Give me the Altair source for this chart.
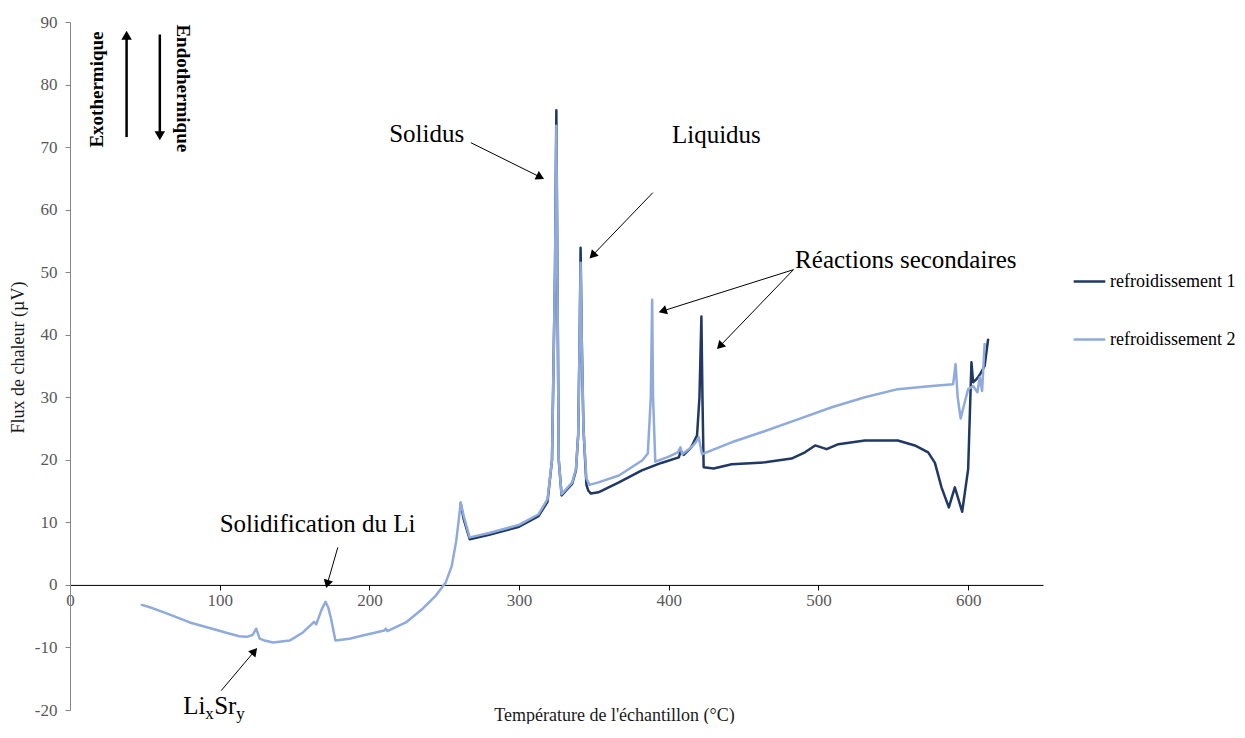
import math
import altair as alt
import pandas as pd

# ---------------- data ----------------
SERIES = ["refroidissement 1", "refroidissement 2"]
COLORS = ["#1F3864", "#8FAADC"]

# refroidissement 1 (dark)
T1 = [261, 263, 267, 280, 300, 313, 319, 322, 324, 324.9, 325.6, 326.5, 328.4, 335.5, 338,
      339.5, 340.5, 341.1, 341.8, 343, 345, 346.2, 348, 353, 366.7, 382, 395, 406.7, 408, 410,
      415, 418.9, 420.5, 421.8, 422.5, 423.3, 430, 442, 464.4, 482, 491, 497.8, 505.5, 513.3,
      531, 553, 564.4, 573.3, 577.8, 582.2, 587.1, 591.1, 596, 600, 602.2, 603.3, 605.6, 608,
      611, 613.3]
F1 = [13.0, 10.5, 7.3, 8.0, 9.3, 11.0, 13.3, 20, 50, 75.9, 50, 20, 14.3, 16.2, 18.3,
      24, 40, 53.9, 40, 25, 16, 15.1, 14.6, 14.8, 16.4, 18.3, 19.5, 20.4, 21.4, 20.8,
      22.0, 23.9, 30, 42.9, 30, 18.8, 18.6, 19.3, 19.6, 20.2, 21.2, 22.3, 21.7, 22.5,
      23.1, 23.1, 22.3, 21.2, 19.5, 15.6, 12.4, 15.6, 11.7, 18.5, 35.6, 32.4, 32.9, 33.7,
      35.0, 39.2]

# refroidissement 2 (light)
T2 = [48, 55, 65, 80, 95, 105, 113, 118, 122, 124.4, 126.7, 130, 135.6, 146.7, 155.6, 161.8,
      163, 164.5, 168, 170.7, 172.5, 174.4, 177.3, 186.7, 195.6, 210, 211, 212, 224.4, 235.6,
      244.4, 251, 255, 258, 260, 261, 263, 267, 280, 300, 313, 319, 322, 324, 324.9, 325.6,
      326.5, 328.4, 335.5, 338, 339.5, 340.5, 341.1, 341.8, 343, 345, 347, 353, 366.7, 382.2,
      386, 388, 388.9, 389.5, 391, 400, 406, 407.8, 409, 415, 418, 420, 422.2, 442, 464.4,
      486.7, 508.9, 531, 553, 575.6, 590, 591.6, 593, 595, 597.5, 600, 603.3, 606.2, 607.8,
      609.3, 611]
F2 = [-3.2, -3.7, -4.6, -6.0, -7.0, -7.7, -8.2, -8.3, -8.0, -7.0, -8.6, -8.9, -9.2, -8.9, -7.6, -6.2,
      -5.9, -6.3, -4.0, -2.7, -3.6, -5.4, -8.9, -8.6, -8.1, -7.3, -7.0, -7.4, -6.0, -3.8,
      -1.7, 0.4, 3.0, 7.0, 11.0, 13.2, 11.0, 7.6, 8.3, 9.6, 11.3, 13.7, 20, 50, 73.4, 50,
      20, 14.5, 16.4, 18.5, 24, 40, 51.5, 40, 25, 17, 16.0, 16.4, 17.5, 19.9,
      21, 30, 45.6, 30, 19.7, 20.5, 21.2, 22.0, 20.9, 22.0, 22.8, 23.6, 20.9, 22.8, 24.6,
      26.5, 28.4, 30.0, 31.3, 31.8, 32.1, 35.3, 30.0, 26.6, 29.0, 31.3, 31.8, 30.8, 33.2,
      31.0, 38.5]

X_TICKS = [0, 100, 200, 300, 400, 500, 600]
Y_TICKS = [-20, -10, 0, 10, 20, 30, 40, 50, 60, 70, 80, 90]
X_DOMAIN = [0, 650]
Y_DOMAIN = [-20, 90]

# annotations: label, x, y
BIG_CENTER = [("Solidus", 238.3, 70.8), ("Liquidus", 431.8, 70.7)]
BIG_LEFT = [("Réactions secondaires", 484.4, 50.6), ("Solidification du Li", 100.0, 8.5)]
LISR_ANCHOR = (75.6, -20.6)
EXO = ("Exothermique", 17.8, 79.2)
ENDO = ("Endothermique", 75.5, 79.4)

# arrows: tail x, tail y, head x, head y, kind
ARROWS = [
    (267.8, 70.7, 316.7, 64.9, "thin"),
    (389.3, 62.7, 347.1, 52.2, "thin"),
    (483.3, 50.4, 393.3, 43.6, "thin"),
    (483.3, 50.4, 432.2, 37.7, "thin"),
    (178.9, 6.0, 171.1, -0.5, "thin"),
    (101.0, -16.9, 125.0, -10.1, "thin"),
    (37.8, 71.6, 37.8, 88.6, "thick"),
    (60.0, 88.0, 60.0, 71.1, "thick"),
]

# ---------------- layout ----------------
W, H = 973, 688
FONT = "Liberation Serif"
PXX = W / (X_DOMAIN[1] - X_DOMAIN[0])
PXY = H / (Y_DOMAIN[1] - Y_DOMAIN[0])
X0_OFFSET = -(H * (0 - Y_DOMAIN[0]) / (Y_DOMAIN[1] - Y_DOMAIN[0]))

xs = alt.Scale(domain=X_DOMAIN, nice=False, zero=False)
ys = alt.Scale(domain=Y_DOMAIN, nice=False, zero=False)

XAXIS = alt.Axis(
    title="Température de l'échantillon (°C)", values=X_TICKS, offset=X0_OFFSET,
    grid=False, domainColor="#000000", domainWidth=1, tickColor="#000000", tickSize=5,
    labelFont=FONT, labelFontSize=17, labelColor="#595959", labelPadding=3,
    labelFlush=False, labelOverlap=False,
    titleFont=FONT, titleFontSize=18, titleFontWeight="normal", titleColor="#1a1a1a",
    titleX=544, titleY=131, titleBaseline="middle", titleAlign="center",
)
YAXIS = alt.Axis(
    title="Flux de chaleur (µV)", values=Y_TICKS, grid=False,
    domainColor="#868686", domainWidth=1, tickColor="#868686", tickSize=5,
    labelFont=FONT, labelFontSize=17, labelColor="#595959", labelPadding=8,
    labelFlush=False, labelOverlap=False,
    labelExpr="replace(datum.label, '\u2212', '-')",
    titleFont=FONT, titleFontSize=18, titleFontWeight="normal", titleColor="#1a1a1a",
    titleX=-52, titleY=335, titleBaseline="middle", titleAngle=270,
)


def ex(field):
    return alt.X(f"{field}:Q", scale=xs, axis=XAXIS)


def ey(field):
    return alt.Y(f"{field}:Q", scale=ys, axis=YAXIS)


# ---------------- line data ----------------
df = pd.concat([
    pd.DataFrame({"T": T1, "F": F1, "s": SERIES[0], "o": range(len(T1))}),
    pd.DataFrame({"T": T2, "F": F2, "s": SERIES[1], "o": range(len(T2))}),
], ignore_index=True)

lines = alt.Chart(df).mark_line(strokeWidth=2.5, strokeJoin="round", strokeCap="round").encode(
    x=ex("T"),
    y=ey("F"),
    color=alt.Color("s:N", scale=alt.Scale(domain=SERIES, range=COLORS),
                    legend=alt.Legend(
                        title=None, orient="none", legendX=1002, legendY=242,
                        symbolType="stroke", symbolSize=1000, symbolStrokeWidth=2.5,
                        labelFont=FONT, labelFontSize=18, labelColor="#000000",
                        rowPadding=31, labelOffset=3, padding=0)),
    order="o:Q",
)

# ---------------- arrows ----------------
rows = []
for xt, yt, xh, yh, kind in ARROWS:
    size = 90 if kind == "thin" else 110
    w = 1 if kind == "thin" else 2.5
    dxp = (xh - xt) * PXX
    dyp = -(yh - yt) * PXY
    L = math.hypot(dxp, dyp)
    ux, uy = dxp / L, dyp / L
    h = 0.866 * math.sqrt(size) / 2
    cx = xh - ux * h / PXX
    cy = yh + uy * h / PXY
    ang = math.degrees(math.atan2(dxp, -dyp)) % 360
    rows.append({"T": xt, "F": yt, "T2": cx, "F2": cy, "ang": ang, "sz": size, "w": w})
adf = pd.DataFrame(rows)

rules = alt.Chart(adf).mark_rule(color="#000000").encode(
    x=ex("T"), y=ey("F"), x2="T2:Q", y2="F2:Q",
    strokeWidth=alt.StrokeWidth("w:Q", scale=None),
)
heads = alt.Chart(adf).mark_point(shape="triangle-up", filled=True, color="#000000",
                                  opacity=1, strokeWidth=0).encode(
    x=ex("T2"), y=ey("F2"),
    angle=alt.Angle("ang:Q", scale=None),
    size=alt.Size("sz:Q", scale=None),
)

# ---------------- text ----------------
cdf = pd.DataFrame(BIG_CENTER, columns=["label", "T", "F"])
ldf = pd.DataFrame(BIG_LEFT, columns=["label", "T", "F"])
texts_c = alt.Chart(cdf).mark_text(font=FONT, fontSize=25, align="center",
                                   baseline="alphabetic", color="#000000").encode(
    x=ex("T"), y=ey("F"), text="label:N")
texts_l = alt.Chart(ldf).mark_text(font=FONT, fontSize=25, align="left",
                                   baseline="alphabetic", color="#000000").encode(
    x=ex("T"), y=ey("F"), text="label:N")

sdf = pd.DataFrame({"T": [LISR_ANCHOR[0]], "F": [LISR_ANCHOR[1]]})
lisr_layers = []
for txt, dx, dy, fs in [("Li", 0, 0, 25), ("x", 22, 5, 17), ("Sr", 31, 0, 25), ("y", 53, 5, 17)]:
    lisr_layers.append(
        alt.Chart(sdf).mark_text(font=FONT, fontSize=fs, align="left", baseline="alphabetic",
                                 dx=dx, dy=dy, color="#000000").encode(
            x=ex("T"), y=ey("F"), text=alt.value(txt)))

exo_df = pd.DataFrame([EXO], columns=["label", "T", "F"])
endo_df = pd.DataFrame([ENDO], columns=["label", "T", "F"])
exo = alt.Chart(exo_df).mark_text(font=FONT, fontSize=19, fontWeight="bold", angle=270,
                                  align="center", baseline="middle", color="#000000").encode(
    x=ex("T"), y=ey("F"), text="label:N")
endo = alt.Chart(endo_df).mark_text(font=FONT, fontSize=19, fontWeight="bold", angle=90,
                                    align="center", baseline="middle", color="#000000").encode(
    x=ex("T"), y=ey("F"), text="label:N")

chart = alt.layer(lines, rules, heads, texts_c, texts_l, *lisr_layers, exo, endo).properties(
    width=W, height=H,
    padding={"left": 62, "top": 14, "right": 192, "bottom": 14},
    autosize=alt.AutoSizeParams(type="none"),
    background="#ffffff",
).configure_view(strokeWidth=0)

chart.save("out.html", embed_options={"renderer": "svg", "actions": False})
